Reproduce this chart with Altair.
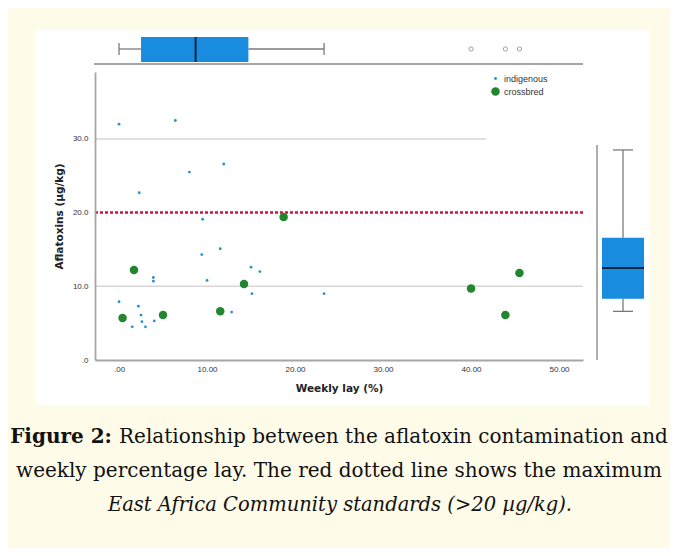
import altair as alt
import pandas as pd

# ---------------- data ----------------
indig_x = [0.0, 6.4, 2.3, 8.0, 11.9, 9.5, 9.4, 11.5, 15.0, 16.0, 3.9, 3.9,
           10.0, 15.1, 0.0, 2.2, 2.5, 2.6, 1.5, 3.0, 4.0, 12.8, 23.3]
indig_y = [32.0, 32.5, 22.7, 25.5, 26.6, 19.1, 14.3, 15.1, 12.6, 12.0, 11.2, 10.7,
           10.8, 9.0, 7.9, 7.3, 6.1, 5.2, 4.5, 4.5, 5.3, 6.5, 9.0]
cross_x = [1.7, 18.7, 14.2, 0.4, 5.0, 11.5, 40.0, 45.5, 43.9]
cross_y = [12.2, 19.4, 10.3, 5.7, 6.1, 6.6, 9.7, 11.8, 6.1]
breeds = ["indigenous", "crossbred"]

# marginal box plots (values as drawn in the reference)
lay_box = {"lo": 0.0, "q1": 2.5, "med": 8.7, "q3": 14.7, "hi": 23.3}
lay_outliers = [40.0, 43.9, 45.5]
afla_box = {"lo": 6.6, "q1": 8.3, "med": 12.5, "q3": 16.6, "hi": 28.5}

limit = [20.0]          # EAC standard
grid_y = [10.0, 30.0]
x_ticks = [0, 10, 20, 30, 40, 50]
y_ticks = [0, 10, 20, 30]

caption_bold = "Figure 2:"
caption_1 = "Relationship between the aflatoxin contamination and"
caption_2 = "weekly percentage lay. The red dotted line shows the maximum"
caption_3 = "East Africa Community standards (>20 µg/kg)."

# ---------------- tables ----------------
pts = pd.DataFrame({
    "lay": indig_x + cross_x,
    "afla": indig_y + cross_y,
    "breed": [breeds[0]] * len(indig_x) + [breeds[1]] * len(cross_x),
})
X_MIN, X_MAX = -2.73, 52.72
Y_MAX = 39.08
grid_df = pd.DataFrame({"y": grid_y, "x0": [X_MIN, X_MIN], "x1": [X_MAX, 41.7]})
red_df = pd.DataFrame({"y": limit, "x0": [X_MIN], "x1": [X_MAX]})
lay_df = pd.DataFrame([lay_box])
afla_df = pd.DataFrame([afla_box])
out_df = pd.DataFrame({"v": lay_outliers})
one = pd.DataFrame({"k": [0]})

xs = alt.Scale(domain=[X_MIN, X_MAX], nice=False, zero=False)
ys = alt.Scale(domain=[0, Y_MAX], nice=False, zero=False)

W, H = 488, 288
BOX_BLUE = "#1a8ce0"
MED = "#0b2545"
WHISK = "#7a7a7a"
AXIS_GRAY = "#a6a6a6"

x_axis = alt.Axis(values=x_ticks,
                  labelExpr="datum.value == 0 ? '.00' : format(datum.value, '.2f')",
                  title="Weekly lay (%)", grid=False, ticks=False, tickSize=0,
                  domainColor=AXIS_GRAY, domainWidth=1.8, zindex=1,
                  labelFont="Liberation Sans", labelFontSize=8, labelColor="#333",
                  labelPadding=5, titleFont="DejaVu Sans", titleFontSize=10.5,
                  titleFontWeight="bold", titleColor="#222", titlePadding=10)
y_axis = alt.Axis(values=y_ticks,
                  labelExpr="datum.value == 0 ? '.0' : format(datum.value, '.1f')",
                  title="Aflatoxins (µg/kg)", grid=False, ticks=False, tickSize=0,
                  domainColor=AXIS_GRAY, domainWidth=1.8, zindex=1,
                  labelFont="Liberation Sans", labelFontSize=8, labelColor="#333",
                  labelPadding=7, titleFont="DejaVu Sans", titleFontSize=10.5,
                  titleFontWeight="bold", titleColor="#222", titlePadding=8)


def X(field):
    return alt.X(field, scale=xs, axis=x_axis)


def Y(field):
    return alt.Y(field, scale=ys, axis=y_axis)


panel = alt.Chart(one).mark_rect(color="white").encode(
    x=alt.value(-60), x2=alt.value(555), y=alt.value(-42), y2=alt.value(333))

grid = alt.Chart(grid_df).mark_rule(color="#d6d6d6", strokeWidth=1.5).encode(
    x=X("x0:Q"), x2="x1:Q", y=Y("y:Q"))

red = alt.Chart(red_df).mark_rule(color="#d3103c", strokeWidth=2.5, strokeDash=[3, 2]).encode(
    x=X("x0:Q"), x2="x1:Q", y=Y("y:Q"))

legend = alt.Legend(orient="none", legendX=396, legendY=2, title=None,
                    labelFont="Liberation Sans", labelFontSize=9, labelColor="#333",
                    symbolType="circle", rowPadding=3, padding=0, zindex=1,
                    symbolStrokeWidth=0, symbolOpacity=1, labelOffset=4)

scatter = alt.Chart(pts).mark_point(filled=True, opacity=1).encode(
    x=X("lay:Q"),
    y=Y("afla:Q"),
    color=alt.Color("breed:N", scale=alt.Scale(domain=breeds, range=["#2b8fd0", "#22852f"]),
                    legend=legend),
    size=alt.Size("breed:N", scale=alt.Scale(domain=breeds, range=[8, 72]), legend=legend),
)

# ---- top marginal box plot (lay) ----
top_line = alt.Chart(one).mark_rule(color=AXIS_GRAY, strokeWidth=1.8).encode(
    x=alt.value(-1), x2=alt.value(W), y=alt.value(-8))
tb_w1 = alt.Chart(lay_df).mark_rule(color=WHISK, strokeWidth=1.3).encode(
    x=X("lo:Q"), x2="q1:Q", y=alt.value(-23))
tb_w2 = alt.Chart(lay_df).mark_rule(color=WHISK, strokeWidth=1.3).encode(
    x=X("q3:Q"), x2="hi:Q", y=alt.value(-23))
tb_c1 = alt.Chart(lay_df).mark_rule(color=WHISK, strokeWidth=1.3).encode(
    x=X("lo:Q"), y=alt.value(-29), y2=alt.value(-17))
tb_c2 = alt.Chart(lay_df).mark_rule(color=WHISK, strokeWidth=1.3).encode(
    x=X("hi:Q"), y=alt.value(-29), y2=alt.value(-17))
tb_box = alt.Chart(lay_df).mark_rect(color=BOX_BLUE).encode(
    x=X("q1:Q"), x2="q3:Q", y=alt.value(-35), y2=alt.value(-10))
tb_med = alt.Chart(lay_df).mark_rule(color=MED, strokeWidth=2).encode(
    x=X("med:Q"), y=alt.value(-35), y2=alt.value(-10))
tb_out = alt.Chart(out_df).mark_point(color=WHISK, size=18, strokeWidth=1, filled=False).encode(
    x=X("v:Q"), y=alt.value(-23))

# ---- right marginal box plot (aflatoxin) ----
rb_line = alt.Chart(one).mark_rule(color=AXIS_GRAY, strokeWidth=1.8).encode(
    x=alt.value(502), y=alt.value(73), y2=alt.value(H))
rb_w1 = alt.Chart(afla_df).mark_rule(color=WHISK, strokeWidth=1.3).encode(
    y=Y("lo:Q"), y2="q1:Q", x=alt.value(528))
rb_w2 = alt.Chart(afla_df).mark_rule(color=WHISK, strokeWidth=1.3).encode(
    y=Y("q3:Q"), y2="hi:Q", x=alt.value(528))
rb_c1 = alt.Chart(afla_df).mark_rule(color=WHISK, strokeWidth=1.3).encode(
    y=Y("lo:Q"), x=alt.value(518), x2=alt.value(538))
rb_c2 = alt.Chart(afla_df).mark_rule(color=WHISK, strokeWidth=1.3).encode(
    y=Y("hi:Q"), x=alt.value(518), x2=alt.value(538))
rb_box = alt.Chart(afla_df).mark_rect(color=BOX_BLUE).encode(
    y=Y("q1:Q"), y2="q3:Q", x=alt.value(507), x2=alt.value(549))
rb_med = alt.Chart(afla_df).mark_rule(color=MED, strokeWidth=2).encode(
    y=Y("med:Q"), x=alt.value(507), x2=alt.value(549))

# ---- caption ----
CAP_FONT = "DejaVu Serif"
CAP_SIZE = 20


def cap(text, x, y, align, weight="normal", style="normal", size=CAP_SIZE):
    return alt.Chart(one).mark_text(text=text, font=CAP_FONT, fontSize=size,
                                    fontWeight=weight, fontStyle=style, align=align,
                                    baseline="alphabetic", color="#111").encode(
        x=alt.value(x), y=alt.value(y))


captions = [
    cap(caption_bold, 17, 371, "right", weight="bold"),
    cap(caption_1, 24, 371, "left"),
    cap(caption_2, 244, 405, "center"),
    cap(caption_3, 245, 439, "center", style="italic", size=19.5),
]

chart = alt.layer(
    panel, grid, red, scatter,
    top_line, tb_w1, tb_w2, tb_c1, tb_c2, tb_box, tb_med, tb_out,
    rb_line, rb_w1, rb_w2, rb_c1, rb_c2, rb_box, rb_med,
    *captions,
).properties(
    width=W, height=H,
    padding={"left": 87, "top": 64, "right": 87, "bottom": 188},
    autosize=alt.AutoSizeParams(type="none"),
    background="#fefbe8",
).configure_view(stroke=None)

chart.save("out.html", embed_options={"renderer": "svg", "actions": False})
